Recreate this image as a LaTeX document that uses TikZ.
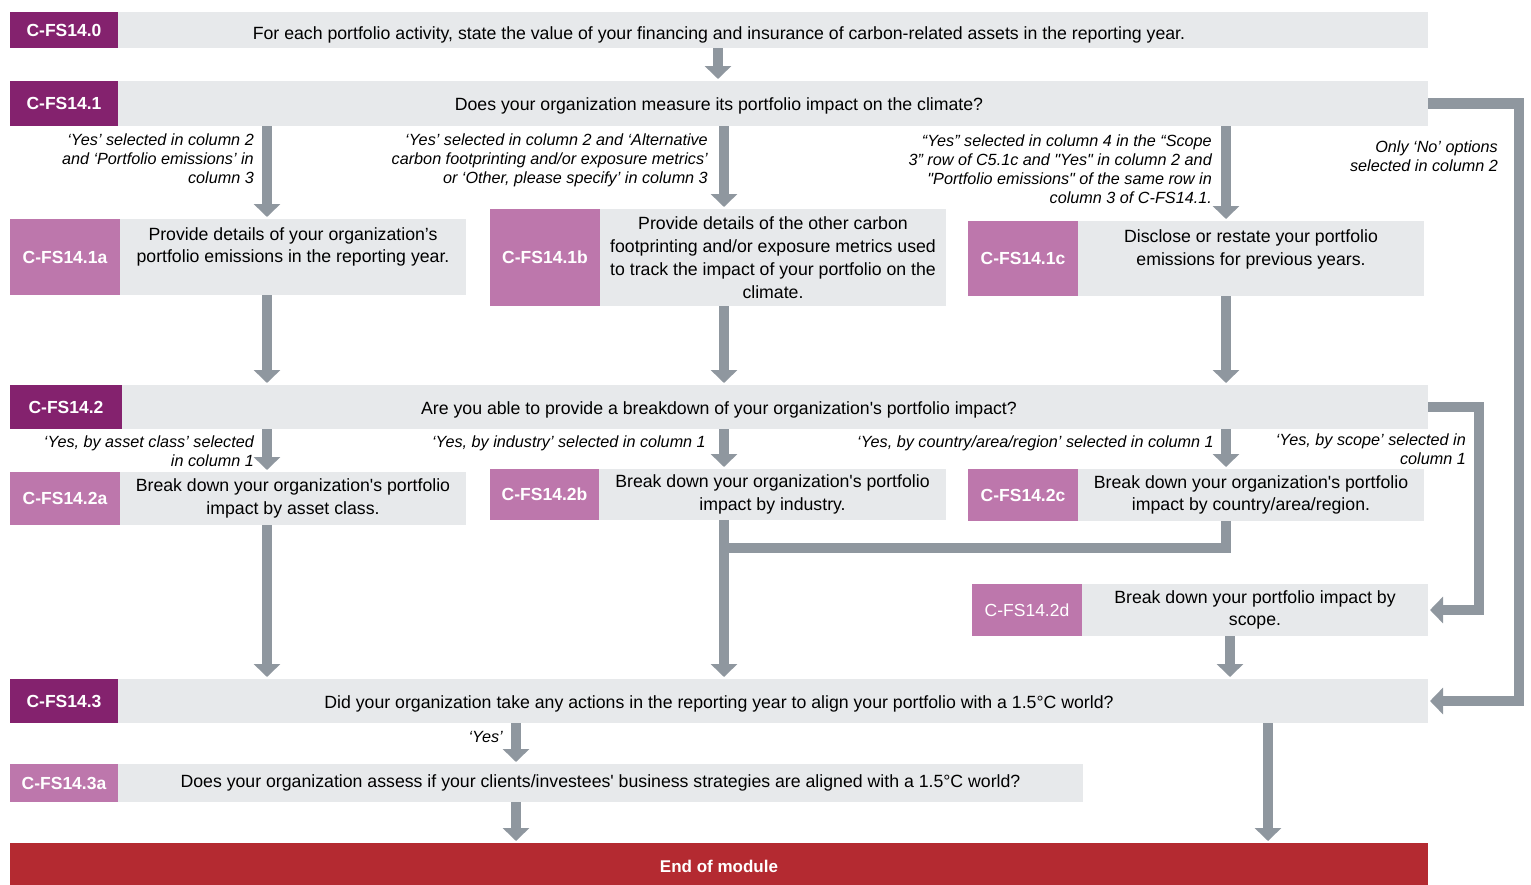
\documentclass[tikz,border=0pt]{standalone}
\usepackage{fontspec}
\setmainfont{Liberation Sans}
\usetikzlibrary{arrows.meta}
\definecolor{cfsdark}{RGB}{132,34,110}
\definecolor{cfspink}{RGB}{189,119,172}
\definecolor{cfsgray}{RGB}{231,233,235}
\definecolor{cfsarrow}{RGB}{143,151,159}
\definecolor{cfsred}{RGB}{180,42,49}

\begin{document}
\begin{tikzpicture}[x=1pt,y=-1pt,
				row/.style={fill=cfsgray,anchor=north west,inner sep=0pt,outer sep=0pt,
					align=center,font=\fontsize{17.7}{22.8}\selectfont},
				wide/.style={row,minimum width=1418pt,text height=14.5pt,text depth=0pt},
				code/.style={fill=cfsdark,text=white,anchor=north west,inner sep=0pt,
					outer sep=0pt,minimum width=108pt,font=\fontsize{17.5}{20}\selectfont\bfseries},
				subcode/.style={code,fill=cfspink,minimum width=110pt},
				cond/.style={anchor=north east,align=right,inner sep=0pt,
					font=\fontsize{16.2}{19}\selectfont\itshape},
				rail/.style={draw=cfsarrow,line width=10.5pt},
				arr/.style={rail,shorten >=2pt,-{Triangle[width=26pt,length=13pt]}}]
				\useasboundingbox (0,0) rectangle (1531,884);
				% columns of the arrows
				\coordinate (col0) at (718,0);
				\coordinate (colA) at (267,0);
				\coordinate (colB) at (724,0);
				\coordinate (colC) at (1226,0);
				\coordinate (colD) at (1230,0);
				\coordinate (colY) at (516,0);
				\coordinate (colE) at (1268,0);
				\coordinate (railR1) at (1519,0);
				\coordinate (railR2) at (1479,0);
				\coordinate (join) at (1226,548);

				% questions
				\node[wide,minimum height=36pt,text height=18pt] (q140) at (10,12)
					{For each portfolio activity, state the value of your financing and insurance of carbon-related assets in the reporting year.};
				\node[code,minimum height=36pt] (c140) at (10,12) {C-FS14.0};
				\node[wide,minimum height=45pt] (q141) at (10,81)
					{Does your organization measure its portfolio impact on the climate?};
				\node[code,minimum height=45pt] (c141) at (10,81) {C-FS14.1};

				\node[row,minimum width=346pt,minimum height=76pt] (q141a) at (120,219)
					{Provide details of your organization’s\\portfolio emissions in the reporting year.\\[-6pt]\strut};
				\node[subcode,minimum height=76pt] (c141a) at (10,219) {C-FS14.1a};
				\node[row,minimum width=346pt,minimum height=97pt] (q141b) at (600,209)
					{Provide details of the other carbon\\footprinting and/or exposure metrics used\\to track the impact of your portfolio on the\\climate.};
				\node[subcode,minimum height=97pt] (c141b) at (490,209) {C-FS14.1b};
				\node[row,minimum width=346pt,minimum height=75pt] (q141c) at (1078,221)
					{Disclose or restate your portfolio\\emissions for previous years.\\[-8pt]\strut};
				\node[subcode,minimum height=75pt] (c141c) at (968,221) {C-FS14.1c};

				\node[wide,minimum height=44pt] (q142) at (10,385)
					{Are you able to provide a breakdown of your organization\textquotesingle s portfolio impact?};
				\node[code,minimum width=112pt,minimum height=44pt] (c142) at (10,385) {C-FS14.2};

				\node[row,minimum width=346pt,minimum height=53pt] (q142a) at (120,472)
					{Break down your organization\textquotesingle s portfolio\\impact by asset class.};
				\node[subcode,minimum height=53pt] (c142a) at (10,472) {C-FS14.2a};
				\node[row,minimum width=347pt,minimum height=51pt] (q142b) at (599,469)
					{Break down your organization\textquotesingle s portfolio\\impact by industry.};
				\node[subcode,minimum width=109pt,minimum height=51pt] (c142b) at (490,469) {C-FS14.2b};
				\node[row,minimum width=346pt,minimum height=52pt] (q142c) at (1078,469)
					{Break down your organization\textquotesingle s portfolio\\impact by country/area/region.};
				\node[subcode,minimum height=52pt] (c142c) at (968,469) {C-FS14.2c};
				\node[row,minimum width=346pt,minimum height=52pt] (q142d) at (1082,584)
					{Break down your portfolio impact by\\scope.};
				\node[subcode,minimum height=52pt,font=\fontsize{17.5}{20}\selectfont] (c142d) at (972,584) {C-FS14.2d};

				\node[wide,minimum height=44pt] (q143) at (10,679)
					{Did your organization take any actions in the reporting year to align your portfolio with a 1.5°C world?};
				\node[code,minimum height=44pt] (c143) at (10,679) {C-FS14.3};
				\node[row,minimum width=965pt,minimum height=38pt] (q143a) at (118,764)
					{Does your organization assess if your clients/investees\textquotesingle\ business strategies are aligned with a 1.5°C world?};
				\node[subcode,minimum width=108pt,minimum height=38pt] (c143a) at (10,764) {C-FS14.3a};

				\node[row,fill=cfsred,text=white,minimum width=1418pt,minimum height=46pt,
					font=\fontsize{17}{20}\selectfont\bfseries] (endm) at (10,843) {End of module};

				% conditions
				\node[cond] (lA1) at (254,134) {‘Yes’ selected in column 2\\and ‘Portfolio emissions’ in\\column 3};
				\node[cond] (lB1) at (708,134) {‘Yes’ selected in column 2 and ‘Alternative\\carbon footprinting and/or exposure metrics’\\or ‘Other, please specify’ in column 3};
				\node[cond] (lC1) at (1212,135) {“Yes” selected in column 4 in the “Scope\\3” row of C5.1c and \textquotedbl Yes\textquotedbl\ in column 2 and\\\textquotedbl Portfolio emissions\textquotedbl\ of the same row in\\column 3 of C-FS14.1.};
				\node[cond] (lR1) at (1498,141) {Only ‘No’ options\\selected in column 2};
				\node[cond] (lA2) at (254,436) {‘Yes, by asset class’ selected\\in column 1};
				\node[cond] (lB2) at (706,436) {‘Yes, by industry’ selected in column 1};
				\node[cond] (lC2) at (1214,436) {‘Yes, by country/area/region’ selected in column 1};
				\node[cond] (lR2) at (1466,434) {‘Yes, by scope’ selected in\\column 1};
				\node[cond] (lY) at (503,731) {‘Yes’};

				% connectors
				\draw[arr] (col0 |- q140.south) -- (col0 |- q141.north);
				\draw[arr] (colA |- q141.south) -- (colA |- q141a.north);
				\draw[arr] (colB |- q141.south) -- (colB |- q141b.north);
				\draw[arr] (colC |- q141.south) -- (colC |- q141c.north);
				\draw[arr] (q141.east) -- (railR1 |- q141.east) -- (railR1 |- q143.east) -- (q143.east);
				\draw[arr] (colA |- q141a.south) -- (colA |- q142.north);
				\draw[arr] (colB |- q141b.south) -- (colB |- q142.north);
				\draw[arr] (colC |- q141c.south) -- (colC |- q142.north);
				\draw[arr] (q142.east) -- (railR2 |- q142.east) -- (railR2 |- q142d.east) -- (q142d.east);
				\draw[arr] (colA |- q142.south) -- (colA |- q142a.north);
				\draw[arr] (colB |- q142.south) -- (colB |- q142b.north);
				\draw[arr] (colC |- q142.south) -- (colC |- q142c.north);
				\draw[arr] (colA |- q142a.south) -- (colA |- q143.north);
				\draw[arr] (colB |- q142b.south) -- (colB |- q143.north);
				\draw[rail] (colC |- q142c.south) -- (join) -- (colB |- join);
				\draw[arr] (colD |- q142d.south) -- (colD |- q143.north);
				\draw[arr] (colY |- q143.south) -- (colY |- q143a.north);
				\draw[arr] (colY |- q143a.south) -- (colY |- endm.north);
				\draw[arr] (colE |- q143.south) -- (colE |- endm.north);
			\end{tikzpicture}
\end{document}
